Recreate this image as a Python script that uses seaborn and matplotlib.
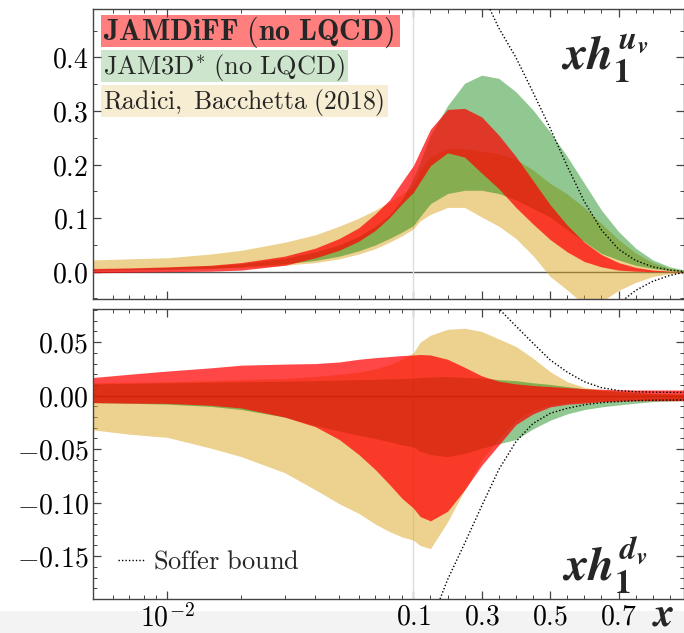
import numpy as np
import pandas as pd
import matplotlib
matplotlib.use("Agg")
import matplotlib.pyplot as plt
from matplotlib.lines import Line2D
from matplotlib.patches import Rectangle
from matplotlib.ticker import FixedLocator, FixedFormatter, MultipleLocator, FuncFormatter
import seaborn as sns

# ---------------- data ----------------
x = [0.005, 0.007, 0.01, 0.015, 0.02, 0.03, 0.04, 0.05, 0.06, 0.07, 0.08, 0.09, 0.1,
     0.12, 0.15, 0.2, 0.25, 0.3, 0.35, 0.4, 0.45, 0.5, 0.55, 0.6, 0.65, 0.7, 0.75, 0.8, 0.85, 0.9]

# u_v panel
jamdiff_u_lo = [-0.002, -0.001, 0.0, 0.001, 0.003, 0.012, 0.026, 0.040, 0.057, 0.077, 0.101, 0.127, 0.148,
                0.168, 0.198, 0.222, 0.214, 0.184, 0.155, 0.120, 0.089, 0.060, 0.037, 0.019, 0.009, 0.003, 0.001, 0.0, 0.0, 0.0]
jamdiff_u_hi = [0.006, 0.007, 0.009, 0.012, 0.017, 0.029, 0.044, 0.062, 0.082, 0.108, 0.134, 0.168, 0.198,
                0.225, 0.266, 0.303, 0.305, 0.289, 0.255, 0.215, 0.170, 0.125, 0.087, 0.055, 0.032, 0.017, 0.008, 0.003, 0.001, 0.0]
jam3d_u_lo = [0.002, 0.003, 0.004, 0.006, 0.009, 0.015, 0.021, 0.029, 0.039, 0.050, 0.062, 0.074, 0.086,
              0.103, 0.127, 0.146, 0.152, 0.152, 0.146, 0.134, 0.118, 0.102, 0.078, 0.056, 0.034, 0.022, 0.012, 0.006, 0.002, 0.0]
jam3d_u_hi = [0.005, 0.006, 0.008, 0.011, 0.015, 0.025, 0.037, 0.050, 0.066, 0.085, 0.106, 0.135, 0.175,
              0.205, 0.255, 0.310, 0.352, 0.367, 0.361, 0.336, 0.302, 0.261, 0.215, 0.165, 0.115, 0.075, 0.044, 0.022, 0.009, 0.002]
radici_u_lo = [0.005, 0.005, 0.006, 0.007, 0.008, 0.012, 0.017, 0.024, 0.033, 0.043, 0.055, 0.067, 0.080,
               0.095, 0.107, 0.120, 0.120, 0.102, 0.085, 0.062, 0.030, -0.009, -0.034, -0.062, -0.056, -0.035, -0.020, -0.009, -0.004, -0.001]
radici_u_hi = [0.022, 0.024, 0.026, 0.033, 0.040, 0.055, 0.069, 0.085, 0.100, 0.115, 0.130, 0.145, 0.160,
               0.190, 0.215, 0.230, 0.230, 0.225, 0.220, 0.210, 0.190, 0.165, 0.145, 0.120, 0.090, 0.060, 0.035, 0.017, 0.006, 0.001]

# d_v panel
jamdiff_d_lo = [-0.0065, -0.007, -0.0072, -0.009, -0.0115, -0.020, -0.029, -0.041, -0.055, -0.069, -0.083, -0.096, -0.105,
                -0.113, -0.117, -0.108, -0.088, -0.065, -0.046, -0.027, -0.017, -0.0105, -0.008, -0.007, -0.0056, -0.005, -0.0047, -0.0047, -0.0047, -0.0047]
jamdiff_d_hi = [0.017, 0.020, 0.023, 0.026, 0.0285, 0.0295, 0.030, 0.0315, 0.034, 0.0355, 0.0365, 0.0375, 0.038,
                0.0385, 0.038, 0.034, 0.0265, 0.0185, 0.0135, 0.011, 0.0095, 0.0085, 0.0075, 0.0065, 0.006, 0.0055, 0.0053, 0.0053, 0.0053, 0.0053]
jam3d_d_lo = [-0.0065, -0.007, -0.008, -0.010, -0.013, -0.020, -0.028, -0.033, -0.037, -0.040, -0.043, -0.046, -0.048,
              -0.052, -0.055, -0.057, -0.054, -0.049, -0.045, -0.041, -0.031, -0.023, -0.017, -0.013, -0.0105, -0.0087, -0.007, -0.0056, -0.005, -0.0045]
jam3d_d_hi = [0.011, 0.0115, 0.012, 0.0125, 0.013, 0.0135, 0.014, 0.0145, 0.015, 0.0153, 0.0156, 0.016, 0.0163,
              0.017, 0.0175, 0.0178, 0.017, 0.0165, 0.015, 0.014, 0.012, 0.0105, 0.0085, 0.0065, 0.005, 0.004, 0.003, 0.002, 0.0015, 0.001]
radici_d_lo = [-0.032, -0.036, -0.039, -0.049, -0.057, -0.072, -0.088, -0.101, -0.110, -0.120, -0.127, -0.132, -0.135,
               -0.140, -0.143, -0.118, -0.088, -0.060, -0.040, -0.023, -0.0135, -0.0087, -0.0065, -0.0056, -0.005, -0.0045, -0.004, -0.004, -0.004, -0.004]
radici_d_hi = [0.012, 0.0125, 0.013, 0.014, 0.015, 0.016, 0.018, 0.020, 0.022, 0.025, 0.029, 0.034, 0.040,
               0.050, 0.0565, 0.062, 0.063, 0.060, 0.053, 0.046, 0.035, 0.0224, 0.013, 0.0078, 0.0053, 0.004, 0.003, 0.002, 0.002, 0.002]

# Soffer bounds
soffer_u_up_x = [0.324, 0.35, 0.4, 0.45, 0.5, 0.55, 0.6, 0.65, 0.7, 0.75, 0.8, 0.85, 0.9]
soffer_u_up_y = [0.49, 0.455, 0.40, 0.335, 0.268, 0.197, 0.131, 0.078, 0.042, 0.021, 0.009, 0.003, 0.0]
soffer_u_dn_x = [0.72, 0.75, 0.8, 0.85, 0.9]
soffer_u_dn_y = [-0.05, -0.035, -0.018, -0.007, 0.0]
soffer_d_up_x = [0.354, 0.4, 0.45, 0.5, 0.55, 0.6, 0.65, 0.7, 0.75, 0.8, 0.9]
soffer_d_up_y = [0.08, 0.065, 0.049, 0.0334, 0.022, 0.013, 0.0075, 0.0048, 0.0037, 0.0033, 0.003]
soffer_d_dn_x = [0.178, 0.2, 0.25, 0.3, 0.35, 0.4, 0.45, 0.5, 0.55, 0.6, 0.65, 0.7, 0.75, 0.8, 0.9]
soffer_d_dn_y = [-0.19, -0.172, -0.138, -0.103, -0.069, -0.043, -0.026, -0.0165, -0.0118, -0.0085, -0.0065, -0.0055, -0.0047, -0.0043, -0.004]

x_ticks = [0.01, 0.1, 0.3, 0.5, 0.7]
x_ticklabels = [r"$10^{-2}$", r"$0.1$", r"$0.3$", r"$0.5$", r"$0.7$"]
legend_labels = [r"$\mathbf{JAMDiFF\ (no\ LQCD)}$", r"$\mathrm{JAM3D}^{*}\mathrm{\ (no\ LQCD)}$",
                 r"$\mathrm{Radici,\ Bacchetta\ (2018)}$"]

# ---------------- style ----------------
sns.set_theme(style="ticks")
plt.rcParams.update({
    "mathtext.fontset": "cm",
    "font.family": ["DejaVu Serif"],
    "mathtext.rm": "STIXGeneral:weight=bold",
    "mathtext.it": "STIXGeneral:style=italic:weight=bold",
    "mathtext.bf": "STIXGeneral:weight=bold",
    "axes.edgecolor": "#444444",
    "axes.linewidth": 1.0,
    "xtick.direction": "in", "ytick.direction": "in",
    "xtick.top": True, "ytick.right": True,
    "xtick.color": "#444444", "ytick.color": "#444444",
    "xtick.labelcolor": "black", "ytick.labelcolor": "black",
    "xtick.major.size": 6, "ytick.major.size": 6,
    "xtick.minor.size": 3, "ytick.minor.size": 3,
    "xtick.major.width": 0.9, "ytick.major.width": 0.9,
    "xtick.minor.width": 0.7, "ytick.minor.width": 0.7,
})

K = 342.0 / 246.0

def fwd(v):
    v = np.asarray(v, dtype=float)
    with np.errstate(divide="ignore", invalid="ignore"):
        lg = np.log10(np.clip(v, 1e-12, None))
    return np.where(v < 0.1, lg, -1.0 + (v - 0.1) * K)

def inv(t):
    t = np.asarray(t, dtype=float)
    return np.where(t < -1.0, 10.0 ** np.minimum(t, 5), 0.1 + (t + 1.0) / K)

def fmt(dec):
    def f(v, pos):
        if abs(v) < 1e-9:
            v = 0.0
        return "$" + f"{v:.{dec}f}" + "$"
    return FuncFormatter(f)

RED, GREEN, TAN = "#ff0000", "#008000", "#daa520"
A_RED, A_GREEN, A_TAN = 0.72, 0.43, 0.5

fig = plt.figure(figsize=(6.84, 6.33), dpi=100)
# light grey strip at the very bottom of the reference picture
fig.patches.append(Rectangle((0, 0), 1, (633 - 611) / 633, transform=fig.transFigure,
                             facecolor="#f3f3f3", edgecolor="none", zorder=-5))
ax1 = fig.add_axes([93.3 / 684, 1 - 299 / 633, 590.2 / 684, 289.7 / 633])
ax2 = fig.add_axes([93.3 / 684, 1 - 599 / 633, 590.2 / 684, 289.7 / 633])

minor_x = [0.006, 0.007, 0.008, 0.009, 0.02, 0.03, 0.04, 0.05, 0.06, 0.07, 0.08, 0.09,
           0.15, 0.2, 0.25, 0.35, 0.4, 0.45, 0.55, 0.6, 0.65, 0.75, 0.8, 0.85]

bands_u = [(radici_u_lo, radici_u_hi, TAN, A_TAN), (jam3d_u_lo, jam3d_u_hi, GREEN, A_GREEN),
           (jamdiff_u_lo, jamdiff_u_hi, RED, A_RED)]
bands_d = [(radici_d_lo, radici_d_hi, TAN, A_TAN), (jam3d_d_lo, jam3d_d_hi, GREEN, A_GREEN),
           (jamdiff_d_lo, jamdiff_d_hi, RED, A_RED)]

for ax, bands, sups in [(ax1, bands_u, [(soffer_u_up_x, soffer_u_up_y), (soffer_u_dn_x, soffer_u_dn_y)]),
                        (ax2, bands_d, [(soffer_d_up_x, soffer_d_up_y), (soffer_d_dn_x, soffer_d_dn_y)])]:
    ax.set_xscale("function", functions=(fwd, inv))
    ax.axhline(0, color="#555555", lw=1.0, zorder=1)
    ax.axvline(0.1, color="#dddddd", lw=1.0, zorder=1)
    for lo, hi, c, a in bands:
        ax.fill_between(x, lo, hi, color=c, alpha=a, lw=0, zorder=2)
    for sx, sy in sups:
        df = pd.DataFrame({"x": sx, "y": sy})
        sns.lineplot(data=df, x="x", y="y", ax=ax, color="black", lw=1.0,
                     linestyle=(0, (1, 1.5)), zorder=3, legend=False)
    ax.set_xlim(0.005, 0.89)
    ax.xaxis.set_major_locator(FixedLocator(x_ticks))
    ax.xaxis.set_minor_locator(FixedLocator(minor_x))
    ax.set_xlabel("")
    ax.set_ylabel("")
    ax.tick_params(which="both", labelsize=20)

ax1.set_ylim(-0.051, 0.49)
ax1.yaxis.set_major_locator(MultipleLocator(0.1))
ax1.yaxis.set_minor_locator(MultipleLocator(0.05))
ax1.yaxis.set_major_formatter(fmt(1))
ax1.xaxis.set_major_formatter(FixedFormatter([""] * len(x_ticks)))
ax2.set_ylim(-0.19, 0.0807)
ax2.yaxis.set_major_locator(MultipleLocator(0.05))
ax2.yaxis.set_minor_locator(MultipleLocator(0.01))
ax2.yaxis.set_major_formatter(fmt(2))
ax2.xaxis.set_major_formatter(FixedFormatter(x_ticklabels))

# legend label boxes (pixel extents from the reference)
box_px = [(101, 400, 15, 47), (101, 348, 50, 82), (101, 388, 85, 117)]
for lab, c, a, fs, (bx0, bx1, by0, by1) in zip(legend_labels, [RED, GREEN, TAN], [0.5, 0.2, 0.2],
                                               [21.5, 19, 18.5], box_px):
    fx0, fx1 = (bx0 - 93.3) / 590.2, (bx1 - 93.3) / 590.2
    fy0, fy1 = (299 - by1) / 289.7, (299 - by0) / 289.7
    ax1.add_patch(Rectangle((fx0, fy0), fx1 - fx0, fy1 - fy0, transform=ax1.transAxes,
                            facecolor=c, alpha=a, edgecolor="none", zorder=4))
    ax1.text(fx0 + 0.003, (fy0 + fy1) / 2 - 0.004, lab, transform=ax1.transAxes, fontsize=fs,
             ha="left", va="center", zorder=5)

ax2.legend(handles=[Line2D([], [], color="black", lw=1.0, linestyle=(0, (1, 1.5)))],
           labels=[r"$\mathrm{Soffer\ bound}$"], loc="lower left", frameon=False,
           fontsize=19, handlelength=1.0, handletextpad=0.3, borderaxespad=0.55)

lab_u = ax1.text(0.866, 0.83, r"$xh_{1}^{u_v}$", math_fontfamily="custom",
                 transform=ax1.transAxes, fontsize=34, ha="center", va="center")
lab_d = ax2.text(0.866, 0.115, r"$xh_{1}^{d_v}$", math_fontfamily="custom",
                 transform=ax2.transAxes, fontsize=34, ha="center", va="center")
lab_x = fig.text(0.970, 0.029, r"$x$", math_fontfamily="custom", fontsize=29, ha="center", va="center")

fig.savefig("out.png", dpi=100)
